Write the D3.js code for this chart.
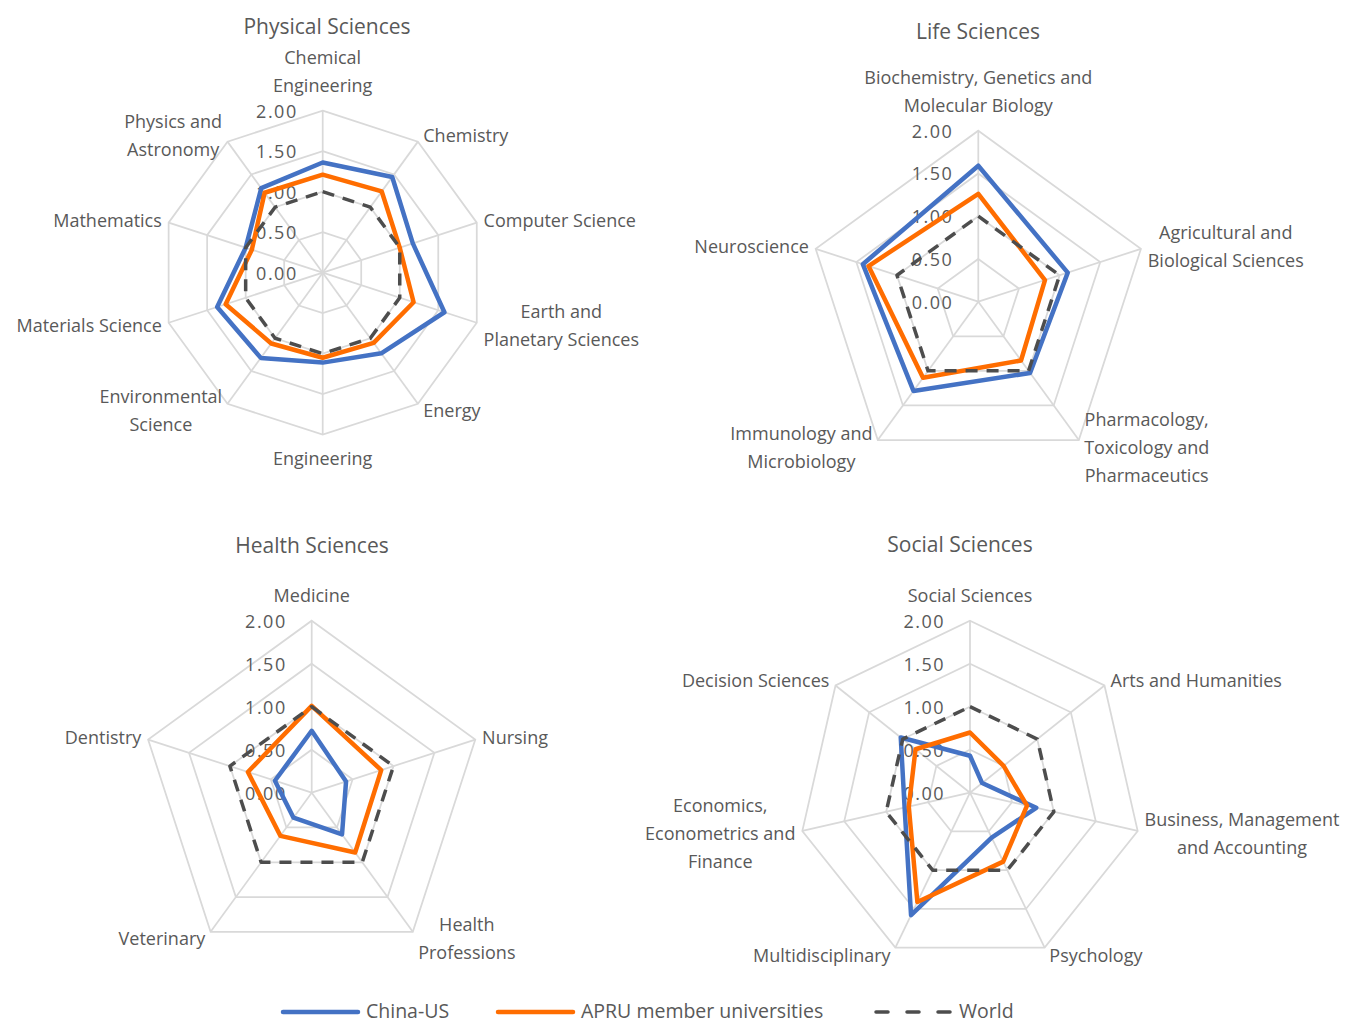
<!DOCTYPE html>
<html lang="en">
<head>
<meta charset="utf-8">
<title>Radar charts</title>
<script src="https://d3js.org/d3.v7.min.js"></script>
<style>
  body { margin: 0; background: #fff; }
  text { font-family: "Open Sans", sans-serif; fill: #595959; }
</style>
</head>
<body>
<svg id="chart" width="1353" height="1022"></svg>
<script>
// series
var seriesNames = ["China-US", "APRU member universities", "World"];

// Physical Sciences
var physCats = ["Chemical\nEngineering", "Chemistry", "Computer Science", "Earth and\nPlanetary Sciences",
  "Energy", "Engineering", "Environmental\nScience", "Materials Science", "Mathematics", "Physics and\nAstronomy"];
var physChinaUS = [1.36, 1.46, 1.17, 1.58, 1.23, 1.11, 1.30, 1.37, 1.00, 1.29];
var physAPRU = [1.21, 1.24, 1.00, 1.18, 1.07, 1.05, 1.08, 1.26, 0.92, 1.22];
var physWorld = [1, 1, 1, 1, 1, 1, 1, 1, 1, 1];

// Life Sciences
var lifeCats = ["Biochemistry, Genetics and\nMolecular Biology", "Agricultural and\nBiological Sciences",
  "Pharmacology,\nToxicology and\nPharmaceutics", "Immunology and\nMicrobiology", "Neuroscience"];
var lifeChinaUS = [1.59, 1.10, 1.03, 1.29, 1.42];
var lifeAPRU = [1.26, 0.82, 0.85, 1.10, 1.35];
var lifeWorld = [1, 1, 1, 1, 1];

// Health Sciences
var healthCats = ["Medicine", "Nursing", "Health\nProfessions", "Veterinary", "Dentistry"];
var healthChinaUS = [0.72, 0.42, 0.60, 0.36, 0.45];
var healthAPRU = [1.01, 0.85, 0.86, 0.62, 0.78];
var healthWorld = [1, 1, 1, 1, 1];

// Social Sciences
var socialCats = ["Social Sciences", "Arts and Humanities", "Business, Management\nand Accounting", "Psychology",
  "Multidisciplinary", "Economics,\nEconometrics and\nFinance", "Decision Sciences"];
var socialChinaUS = [0.43, 0.18, 0.79, 0.58, 1.58, 0.78, 1.03];
var socialAPRU = [0.70, 0.50, 0.68, 0.89, 1.41, 0.73, 0.81];
var socialWorld = [1, 1, 1, 1, 1, 1, 1];

var tickValues = [0, 0.5, 1, 1.5, 2];

function radar() {
    var svg = d3.select("#chart");
    var colors = ["#4472c4", "#ff6d00", "#4d4d4d"];
    var lineH = 28;

    var charts = [
        {title: "Physical Sciences", cats: physCats, data: [physChinaUS, physAPRU, physWorld],
         cx: 322.7, cy: 272.7, r: 162, tx: 327, ty: 26},
        {title: "Life Sciences", cats: lifeCats, data: [lifeChinaUS, lifeAPRU, lifeWorld],
         cx: 978.3, cy: 301.7, r: 171, tx: 978, ty: 31},
        {title: "Health Sciences", cats: healthCats, data: [healthChinaUS, healthAPRU, healthWorld],
         cx: 311.7, cy: 792.7, r: 172, tx: 312, ty: 545},
        {title: "Social Sciences", cats: socialCats, data: [socialChinaUS, socialAPRU, socialWorld],
         cx: 970, cy: 792.7, r: 172, tx: 960, ty: 544}
    ];

    charts.forEach(function(c) {
        var n = c.cats.length;
        var rScale = d3.scaleLinear().domain([0, 2]).range([0, c.r]);
        var ang = function(i) { return i * 2 * Math.PI / n; };
        var g = svg.append("g").attr("transform", "translate(" + c.cx + "," + c.cy + ")");

        // title
        svg.append("text")
            .attr("x", c.tx).attr("y", c.ty)
            .attr("text-anchor", "middle")
            .attr("dominant-baseline", "central")
            .style("font-size", "21px")
            .text(c.title);

        // grid rings
        var ring = d3.lineRadial().curve(d3.curveLinearClosed);
        tickValues.slice(1).forEach(function(v) {
            g.append("path")
                .attr("d", ring(d3.range(n).map(function(i) { return [ang(i), rScale(v)]; })))
                .attr("fill", "none").attr("stroke", "#d9d9d9").attr("stroke-width", 1.75);
        });
        // spokes
        g.selectAll(".spoke").data(d3.range(n)).enter().append("line")
            .attr("x1", 0).attr("y1", 0)
            .attr("x2", function(i) { return rScale(2) * Math.sin(ang(i)); })
            .attr("y2", function(i) { return -rScale(2) * Math.cos(ang(i)); })
            .attr("stroke", "#d9d9d9").attr("stroke-width", 1.75);

        // tick labels
        g.selectAll(".tick").data(tickValues).enter().append("text")
            .attr("x", -25)
            .attr("y", function(v) { return -rScale(v); })
            .attr("text-anchor", "end")
            .attr("dominant-baseline", "central")
            .style("font-size", "18px")
            .style("letter-spacing", "1.5px")
            .text(d3.format(".2f"));

        // category labels
        c.cats.forEach(function(cat, i) {
            var s = Math.sin(ang(i)), co = Math.cos(ang(i));
            var vx = rScale(2) * s, vy = -rScale(2) * co;
            var lines = cat.split("\n");
            var h = lines.length * lineH;
            var top;
            if (Math.abs(s) < 0.1) {
                top = co > 0 ? vy - 12 - h : vy + 9;
            } else {
                top = vy - co * 8 - h / 2;
            }
            var t = g.append("text")
                .attr("text-anchor", "middle")
                .style("font-size", "18px");
            var spans = lines.map(function(l, k) {
                return t.append("tspan")
                    .attr("y", top + lineH * k + lineH / 2)
                    .attr("dominant-baseline", "central")
                    .text(l);
            });
            var w = d3.max(spans, function(sp) { return sp.node().getComputedTextLength(); });
            var gap = 3 + 4 * Math.abs(s);
            var x = Math.abs(s) < 0.1 ? vx : (s > 0 ? vx + gap + w / 2 : vx - gap - w / 2);
            spans.forEach(function(sp) { sp.attr("x", x); });
        });

        // series
        var line = d3.lineRadial()
            .angle(function(d, i) { return ang(i); })
            .radius(function(d) { return rScale(d); })
            .curve(d3.curveLinearClosed);
        c.data.forEach(function(vals, k) {
            g.append("path")
                .attr("d", line(vals))
                .attr("fill", "none")
                .attr("stroke", colors[k])
                .attr("stroke-width", k == 2 ? 3.5 : 4.5)
                .attr("stroke-linejoin", "round")
                .attr("stroke-dasharray", k == 2 ? "12,9" : null);
        });
    });

    // legend
    var legX = [283, 498, 876];
    var legend = svg.append("g");
    seriesNames.forEach(function(name, k) {
        legend.append("line")
            .attr("x1", legX[k]).attr("x2", legX[k] + 75)
            .attr("y1", 1012).attr("y2", 1012)
            .attr("stroke", colors[k])
            .attr("stroke-width", k == 2 ? 3.5 : 4.5)
            .attr("stroke-linecap", "round")
            .attr("stroke-dasharray", k == 2 ? "12,19" : null);
        legend.append("text")
            .attr("x", legX[k] + 83).attr("y", 1010)
            .attr("dominant-baseline", "central")
            .style("font-size", "19.5px")
            .text(name);
    });
}
radar();
</script>
</body>
</html>
